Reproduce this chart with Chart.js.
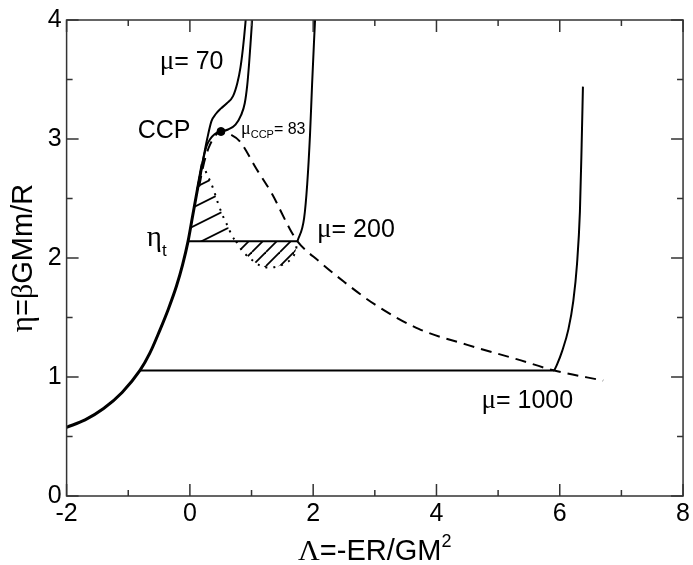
<!DOCTYPE html>
<html>
<head>
<meta charset="utf-8">
<script src="https://cdn.jsdelivr.net/npm/chart.js@4.4.1/dist/chart.umd.min.js"></script>
<style>
  html, body { margin: 0; padding: 0; background: #fff; }
</style>
</head>
<body>
<canvas id="chart" width="693" height="565"></canvas>
<script>
// gas branch, common to every isotherm
const gasX = [-2.0, -1.7, -1.4, -1.1, -0.81, -0.65, -0.49, -0.35, -0.22, -0.12, -0.03, 0.04, 0.12, 0.2];
const gasY = [0.577, 0.64, 0.735, 0.87, 1.055, 1.2, 1.39, 1.57, 1.76, 1.94, 2.14, 2.34, 2.57, 2.79];

// mu = 70 and mu = 83 (critical) branches
const mu70X = [0.12, 0.2, 0.28, 0.35, 0.42, 0.5, 0.6, 0.7, 0.77, 0.82, 0.86, 0.9, 0.92];
const mu70Y = [2.57, 2.79, 3.0, 3.15, 3.21, 3.255, 3.3, 3.36, 3.47, 3.6, 3.76, 3.97, 4.1];
const mu83X = [0.12, 0.2, 0.27, 0.33, 0.4, 0.504, 0.62, 0.74, 0.83, 0.89, 0.93, 0.96, 0.99, 1.02];
const mu83Y = [2.57, 2.79, 2.94, 3.0, 3.04, 3.063, 3.08, 3.12, 3.2, 3.3, 3.45, 3.63, 3.85, 4.08];

// critical point
const ccpX = [0.504];
const ccpY = [3.063];

// mu = 200 : Maxwell line + liquid branch
const tie200X = [-0.03, 1.745];
const tie200Y = [2.14, 2.14];
const mu200X = [1.745, 1.853, 1.903, 1.949, 1.982, 2.012, 2.035];
const mu200Y = [2.14, 2.335, 2.62, 3.04, 3.456, 3.8, 4.05];

// mu = 1000 : Maxwell line + liquid branch
const tie1000X = [-0.81, 5.91];
const tie1000Y = [1.055, 1.055];
const mu1000X = [5.91, 5.96, 6.04, 6.14, 6.22, 6.28, 6.327, 6.355, 6.376];
const mu1000Y = [1.055, 1.11, 1.22, 1.4, 1.64, 1.95, 2.39, 2.95, 3.44];

// coexistence line (dashed)
const coexX = [0.15, 0.22, 0.3, 0.4, 0.504, 0.65, 0.81, 1.078, 1.336, 1.615, 1.745, 2.1, 2.5, 3.0, 3.712, 4.5, 5.3, 5.91, 6.704];
const coexY = [2.6, 2.78, 2.92, 3.02, 3.063, 3.04, 2.98, 2.75, 2.535, 2.25, 2.14, 1.97, 1.8, 1.61, 1.404, 1.27, 1.15, 1.055, 0.97];

// metastable / unstable part of the mu = 200 loop (dotted)
const loopUpX = [0.2, 0.29, 0.38, 0.45, 0.53, 0.62, 0.69, 0.75];
const loopUpY = [2.79, 2.69, 2.58, 2.47, 2.36, 2.26, 2.18, 2.14];
const loopDownX = [0.75, 0.85, 0.97, 1.128, 1.287, 1.486, 1.635, 1.715, 1.745];
const loopDownY = [2.14, 2.06, 2.0, 1.94, 1.92, 1.94, 1.99, 2.06, 2.14];

const xTicks = { min: -2, max: 8, step: 2 };
const yTicks = { min: 0, max: 4, step: 1 };

const SANS = "'Liberation Sans', Arial, sans-serif";
const GREEK = "'Liberation Serif', 'Times New Roman', serif";

function pts(xs, ys) {
  return xs.map((x, i) => ({ x: x, y: ys[i] }));
}

// diagonal hatch; line slope = h / w
function hatch(w, h) {
  const c = document.createElement("canvas");
  c.width = w;
  c.height = h;
  const g = c.getContext("2d");
  g.strokeStyle = "#000";
  g.lineWidth = 1.8;
  for (let k = 0; k <= 2; k++) {
    g.beginPath();
    g.moveTo(0, h * k);
    g.lineTo(w, h * (k - 1));
    g.stroke();
  }
  return g.createPattern(c, "repeat");
}

// upper hatched area: gas branch from the tie line up to the loop, then the loop
const upperEdge = pts(gasX, gasY)
  .filter(p => p.x >= tie200X[0] && p.x < loopUpX[0])
  .concat(pts(loopUpX, loopUpY));

// text labels: x/y = left end and baseline in data units
// each run: [text, font, size, baseline shift]
const notes = [
  { x: -0.49, y: 3.585, runs: [["μ", GREEK, 27, 0], ["= 70", SANS, 25, 0]] },
  { x: -0.846, y: 3.007, runs: [["CCP", SANS, 25, 0]] },
  { x: 0.83, y: 3.038, runs: [["μ", GREEK, 18, 0], ["CCP", SANS, 11, 4], ["= 83", SANS, 16, 0]] },
  { x: -0.70, y: 2.102, runs: [["η", GREEK, 29, 0], ["t", SANS, 17, 10]] },
  { x: 2.063, y: 2.177, runs: [["μ", GREEK, 27, 0], ["= 200", SANS, 25, 0]] },
  { x: 4.73, y: 0.737, runs: [["μ", GREEK, 27, 0], ["= 1000", SANS, 25, 0]] }
];
const xTitle = [["Λ", GREEK, 30, 0], ["=-ER/GM", SANS, 29, 0], ["2", SANS, 18, -13]];
const yTitle = [["η", GREEK, 31, 0], ["=", SANS, 29, 0], ["β", GREEK, 30, 0], ["GMm/R", SANS, 29, 0]];

function runsWidth(ctx, runs) {
  let w = 0;
  runs.forEach(r => {
    ctx.font = r[2] + "px " + r[1];
    w += ctx.measureText(r[0]).width;
  });
  return w;
}

function drawRuns(ctx, x, y, runs) {
  ctx.textBaseline = "alphabetic";
  ctx.textAlign = "left";
  ctx.fillStyle = "#000";
  let cx = x;
  runs.forEach(r => {
    ctx.font = r[2] + "px " + r[1];
    ctx.fillText(r[0], cx, y + r[3]);
    cx += ctx.measureText(r[0]).width;
  });
}

// frame with inward ticks on all four sides, then labels and axis titles
const framePlugin = {
  id: "frame",
  afterDraw(chart) {
    const { ctx, chartArea: a, scales } = chart;
    const sx = scales.x, sy = scales.y;
    ctx.save();
    ctx.strokeStyle = "#333";
    ctx.lineWidth = 1.5;
    ctx.strokeRect(a.left, a.top, a.right - a.left, a.bottom - a.top);
    ctx.beginPath();
    for (let v = xTicks.min; v <= xTicks.max; v += xTicks.step / 2) {
      const len = (v - xTicks.min) % xTicks.step === 0 ? 12 : 6;
      const px = sx.getPixelForValue(v);
      ctx.moveTo(px, a.bottom); ctx.lineTo(px, a.bottom - len);
      ctx.moveTo(px, a.top); ctx.lineTo(px, a.top + len);
    }
    for (let v = yTicks.min; v <= yTicks.max; v += yTicks.step / 2) {
      const len = (v - yTicks.min) % yTicks.step === 0 ? 12 : 6;
      const py = sy.getPixelForValue(v);
      ctx.moveTo(a.left, py); ctx.lineTo(a.left + len, py);
      ctx.moveTo(a.right, py); ctx.lineTo(a.right - len, py);
    }
    ctx.stroke();

    notes.forEach(n => {
      drawRuns(ctx, sx.getPixelForValue(n.x), sy.getPixelForValue(n.y), n.runs);
    });

    const cxm = (a.left + a.right) / 2;
    drawRuns(ctx, cxm - runsWidth(ctx, xTitle) / 2, 560, xTitle);

    ctx.translate(31.5, (a.top + a.bottom) / 2);
    ctx.rotate(-Math.PI / 2);
    drawRuns(ctx, -runsWidth(ctx, yTitle) / 2, 0, yTitle);
    ctx.restore();
  }
};

const curve = (data, w) => ({
  data: data, borderColor: "#000", borderWidth: w || 2,
  cubicInterpolationMode: "monotone", pointRadius: 0, fill: false
});
const straight = data => ({ data: data, borderColor: "#000", borderWidth: 2, tension: 0, pointRadius: 0, fill: false });

const ctx = document.getElementById("chart").getContext("2d");
new Chart(ctx, {
  type: "line",
  data: {
    datasets: [
      {
        data: upperEdge, borderWidth: 0, borderColor: "rgba(0,0,0,0)",
        cubicInterpolationMode: "monotone", pointRadius: 0,
        fill: { value: tie200Y[0] }, backgroundColor: hatch(38, 19)
      },
      {
        data: pts(loopDownX, loopDownY), borderWidth: 0, borderColor: "rgba(0,0,0,0)",
        cubicInterpolationMode: "monotone", pointRadius: 0,
        fill: { value: tie200Y[0] }, backgroundColor: hatch(14, 14)
      },
      curve(pts(gasX, gasY), 3),
      curve(pts(mu70X, mu70Y)),
      curve(pts(mu83X, mu83Y)),
      straight(pts(tie200X, tie200Y)),
      curve(pts(mu200X, mu200Y)),
      straight(pts(tie1000X, tie1000Y)),
      curve(pts(mu1000X, mu1000Y)),
      Object.assign(curve(pts(coexX, coexY)), { borderDash: [11, 7] }),
      Object.assign(curve(pts(loopUpX, loopUpY)), { borderDash: [2, 6] }),
      Object.assign(curve(pts(loopDownX, loopDownY)), { borderDash: [2, 6] }),
      {
        data: pts(ccpX, ccpY), showLine: false, pointRadius: 4,
        pointBackgroundColor: "#000", pointBorderColor: "#000"
      }
    ]
  },
  options: {
    responsive: false,
    animation: false,
    layout: { padding: { top: 18.3, right: 7.7, left: 0, bottom: 0 } },
    plugins: { legend: { display: false }, tooltip: { enabled: false } },
    scales: {
      x: {
        type: "linear", min: xTicks.min, max: xTicks.max,
        afterFit: s => { s.height = 69; },
        grid: { display: false, drawTicks: false },
        border: { display: false },
        ticks: { stepSize: xTicks.step, padding: 3, color: "#000", font: { family: SANS, size: 25 } }
      },
      y: {
        type: "linear", min: yTicks.min, max: yTicks.max,
        afterFit: s => { s.width = 66.6; },
        grid: { display: false, drawTicks: false },
        border: { display: false },
        ticks: { stepSize: yTicks.step, padding: 5, color: "#000", font: { family: SANS, size: 25 } }
      }
    }
  },
  plugins: [framePlugin]
});
</script>
</body>
</html>
